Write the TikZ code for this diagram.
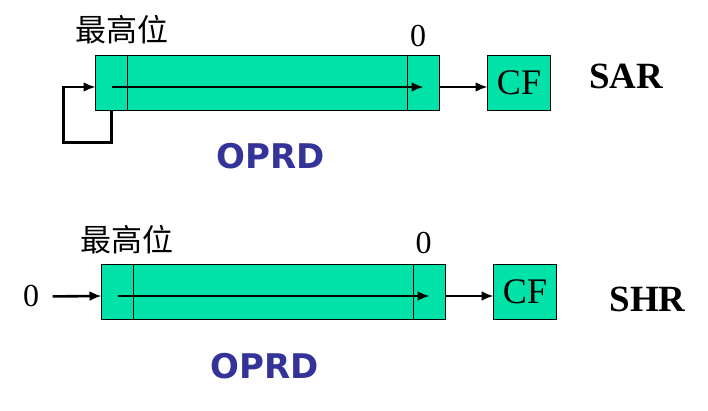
\documentclass[tikz,border=0pt]{standalone}
\usepackage{fontspec}
\setmainfont{Liberation Serif}
\newfontfamily\cjkfont{Noto Sans CJK SC}
\newfontfamily\oprdfont{DejaVu Sans}
\usetikzlibrary{arrows,arrows.meta,positioning}
\definecolor{regfill}{RGB}{0,226,168}
\definecolor{oprdblue}{RGB}{51,51,153}

\begin{document}
\begin{tikzpicture}[
    x=1pt, y=-1pt,
    >={Latex[length=12pt,width=10pt]},
    font=\normalfont,
    node distance=0pt,
    cell/.style={
		rectangle,
		draw=black,
		line width=1pt,
		fill=regfill,
		inner sep=0pt,
		outer sep=0pt,
		minimum height=55pt,
		minimum width=32pt
	},
	flag/.style={
		cell,
		minimum width=63pt,
		font=\fontsize{36}{36}\selectfont
	},
	shiftline/.style={
		line width=2.6pt
	},
	bitlabel/.style={
		font=\fontsize{32}{32}\selectfont
	},
	msblabel/.style={
		font=\cjkfont\fontsize{31}{31}\selectfont
	},
	oplabel/.style={
		font=\bfseries\fontsize{37}{37}\selectfont
	},
	regname/.style={
		text=oprdblue,
		font=\oprdfont\bfseries\fontsize{34}{34}\selectfont
	}
  ]
 \useasboundingbox (0,0) rectangle (708,411);

% // SAR
 \node [cell, anchor=north west] (hi1) at (95.5,55.5) {};
 \node [cell, right=of hi1, minimum width=280pt] (mid1) {};
 \node [cell, right=of mid1] (lo1) {};
 \node [flag, right=48pt of lo1] (cf1) {CF};

 \node [msblabel] (msb1) at (121.5,30) {最高位};
 \node [bitlabel] (zero1) at (418,36) {0};
 \node [oplabel] (sar) at (626,76) {SAR};
 \node [regname] (oprd1) at (271,156) {OPRD};

 \draw [shiftline, ->] ([yshift=-4pt]hi1.center) -- ([yshift=-4pt]lo1.center);
 \draw [shiftline, ->] ([yshift=-4pt]lo1.east) -- ([yshift=-4pt]cf1.west);
 \draw [shiftline, ->] (hi1.south) |- ++(-48,32) |- ([yshift=-4pt]hi1.west);

% // SHR
 \node [cell, anchor=north west] (hi2) at (101.5,264.5) {};
 \node [cell, right=of hi2, minimum width=280pt] (mid2) {};
 \node [cell, right=of mid2] (lo2) {};
 \node [flag, right=48pt of lo2] (cf2) {CF};

 \node [msblabel] (msb2) at (127,240) {最高位};
 \node [bitlabel] (zero2) at (423.5,243.5) {0};
 \node [bitlabel] (zero3) at (31,296.5) {0};
 \node [oplabel] (shr) at (647.5,299) {SHR};
 \node [regname] (oprd2) at (265,366) {OPRD};

 \draw [shiftline, ->] ([yshift=-4pt]hi2.center) -- ([yshift=-4pt]lo2.center);
 \draw [shiftline, ->] ([yshift=-4pt]lo2.east) -- ([yshift=-4pt]cf2.west);
 \draw [shiftline, ->, shorten <=10pt] (zero3.east) -- ([yshift=-4pt]hi2.west);

\end{tikzpicture}
\end{document}
